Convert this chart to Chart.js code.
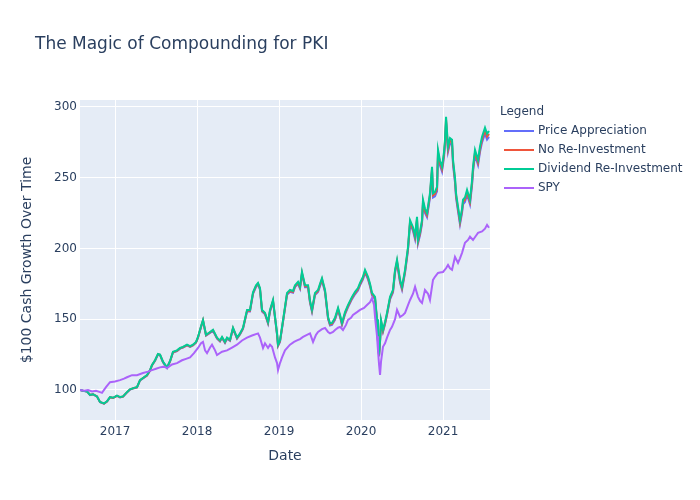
<!DOCTYPE html>
<html>
<head>
<meta charset="utf-8">
<title>The Magic of Compounding for PKI</title>
<script src="https://cdn.jsdelivr.net/npm/chart.js@4.4.1/dist/chart.umd.min.js"></script>
<style>
  html, body { margin: 0; padding: 0; background: #fff; }
  #wrap { width: 700px; height: 500px; }
</style>
</head>
<body>
<div id="wrap"><canvas id="chart"></canvas></div>
<script>
// ---- data (dates as decimal years) ----
const pkiYears = [
  2016.573, 2016.610, 2016.659, 2016.695, 2016.732, 2016.780, 2016.817, 2016.866, 2016.902, 2016.939,
  2016.976, 2017.024, 2017.061, 2017.098, 2017.146, 2017.183, 2017.232, 2017.268, 2017.305, 2017.354,
  2017.390, 2017.427, 2017.451, 2017.488, 2017.524, 2017.549, 2017.585, 2017.634, 2017.671, 2017.707,
  2017.756, 2017.793, 2017.829, 2017.878, 2017.915, 2017.951, 2017.988, 2018.012, 2018.049, 2018.073,
  2018.110, 2018.159, 2018.195, 2018.244, 2018.280, 2018.305, 2018.341, 2018.366, 2018.402, 2018.439,
  2018.488, 2018.524, 2018.561, 2018.610, 2018.646, 2018.683, 2018.720, 2018.744, 2018.768, 2018.793,
  2018.829, 2018.866, 2018.890, 2018.927, 2018.951, 2018.976, 2018.988, 2019.012, 2019.037, 2019.073,
  2019.098, 2019.134, 2019.171, 2019.195, 2019.232, 2019.256, 2019.280, 2019.317, 2019.354, 2019.378,
  2019.402, 2019.439, 2019.476, 2019.500, 2019.524, 2019.561, 2019.598, 2019.622, 2019.646, 2019.683,
  2019.720, 2019.744, 2019.768, 2019.805, 2019.841, 2019.890, 2019.927, 2019.963, 2019.988, 2020.024,
  2020.049, 2020.085, 2020.110, 2020.134, 2020.171, 2020.195, 2020.207, 2020.220, 2020.232, 2020.244,
  2020.268, 2020.293, 2020.317, 2020.354, 2020.390, 2020.415, 2020.439, 2020.476, 2020.500, 2020.537,
  2020.573, 2020.598, 2020.634, 2020.659, 2020.683, 2020.695, 2020.720, 2020.744, 2020.756, 2020.780,
  2020.805, 2020.841, 2020.866, 2020.878, 2020.902, 2020.927, 2020.939, 2020.963, 2020.988, 2021.012,
  2021.024, 2021.037, 2021.061, 2021.085, 2021.110, 2021.122, 2021.146, 2021.159, 2021.183, 2021.207,
  2021.232, 2021.244, 2021.268, 2021.293, 2021.329, 2021.354, 2021.366, 2021.390, 2021.427, 2021.451,
  2021.476, 2021.512, 2021.537, 2021.561
];

const priceAppreciation = [
  100, 99.4, 98.9, 96.4, 96.9, 95.4, 91.4, 90.4, 91.9, 94.8,
  94.3, 95.8, 94.8, 95.3, 98.3, 100.3, 101.3, 101.8, 106.8, 108.7,
  110.2, 113.7, 117.4, 120.6, 125.1, 124.6, 119.6, 115.6, 120.1, 126.5,
  127.5, 129.2, 130, 131.5, 130.5, 131.5, 133.5, 136.9, 144.4, 148.9,
  138.4, 140.4, 141.9, 136.3, 134.3, 136.8, 133.3, 136.3, 134.8, 143.2,
  136.2, 139.2, 143.1, 155.5, 155.5, 167.9, 172.9, 174.6, 170.9, 155.5,
  153.5, 147, 155.4, 162.5, 150.9, 139, 131.1, 134, 143.5, 157.5,
  167.3, 169.4, 168.7, 172.7, 175, 171.6, 181.9, 172.6, 172.6, 161.6,
  155.3, 167.1, 169.2, 173.4, 177.4, 169.1, 150.2, 145.6, 146, 149.6,
  156.5, 151.5, 146, 153.5, 158.4, 164.2, 167.6, 170.3, 173.9, 178.2,
  183, 178.2, 173.2, 166.9, 164.1, 148.5, 133.6, 123.7, 133.6, 147.9,
  141, 146.4, 152.9, 164, 168.9, 182.9, 189.9, 175.7, 170.8, 182.7,
  198.6, 217.4, 212.4, 206.5, 219.6, 203.5, 209.4, 217.3, 231.5, 225.2,
  222.2, 236, 254.4, 236, 236.9, 240.4, 266.2, 258.6, 254.3, 264.5,
  273.2, 289.2, 268.2, 274.3, 273.1, 259.1, 246.7, 235.8, 226.3, 217,
  224.9, 231.2, 232.8, 238.1, 231.1, 244.5, 254.1, 265.9, 258.9, 268.1,
  275, 281.1, 276.9, 278.8
];

const noReinvestment = [
  100, 99.5, 99, 96.5, 97, 95.5, 91.5, 90.4, 91.9, 94.9,
  94.4, 95.9, 94.9, 95.4, 98.4, 100.4, 101.4, 101.9, 106.9, 108.9,
  110.3, 113.8, 117.5, 120.8, 125.3, 124.8, 119.8, 115.8, 120.3, 126.7,
  127.7, 129.4, 130.2, 131.7, 130.7, 131.7, 133.7, 137.2, 144.7, 149.2,
  138.7, 140.7, 142.2, 136.6, 134.6, 137.1, 133.6, 136.6, 135.1, 143.6,
  136.6, 139.6, 143.5, 156, 156, 168.4, 173.4, 175.1, 171.4, 156,
  154, 147.5, 155.9, 163, 151.4, 139.5, 131.5, 134.5, 144, 158.1,
  168, 170, 169.3, 173.3, 175.7, 172.3, 182.6, 173.3, 173.3, 162.3,
  156, 167.8, 169.9, 174.2, 178.2, 169.9, 150.9, 146.3, 146.7, 150.3,
  157.2, 152.2, 146.7, 154.2, 159.2, 165, 168.4, 171.1, 174.8, 179.1,
  183.9, 179.1, 174.1, 167.7, 164.9, 149.2, 134.3, 124.4, 134.3, 148.7,
  141.7, 147.2, 153.7, 164.9, 169.8, 183.9, 190.9, 176.8, 171.9, 183.8,
  199.8, 218.7, 213.7, 207.8, 221, 204.8, 210.7, 218.7, 233, 226.6,
  223.6, 237.5, 256.1, 237.5, 238.5, 242, 268, 260.3, 256, 266.3,
  275, 291.1, 270, 276.2, 275, 260.9, 248.4, 237.4, 227.9, 218.5,
  226.5, 232.8, 234.4, 239.8, 232.8, 246.3, 255.9, 267.8, 260.8, 270.1,
  277, 283.2, 279, 280.9
];

const dividendReinvestment = [
  100, 99.5, 99, 96.5, 97, 95.5, 91.5, 90.5, 92, 95,
  94.5, 96, 95, 95.5, 98.5, 100.5, 101.5, 102, 107, 109,
  110.5, 114, 117.7, 121, 125.5, 125, 120, 116, 120.5, 127,
  128, 129.7, 130.5, 132, 131, 132, 134, 137.5, 145, 149.5,
  139, 141, 142.5, 137, 135, 137.5, 134, 137, 135.5, 144,
  137, 140, 144, 156.5, 156.5, 169, 174, 175.7, 172, 156.5,
  154.5, 148, 156.5, 163.6, 152, 140, 132, 135, 144.5, 158.7,
  168.6, 170.7, 170, 174, 176.4, 173, 183.4, 174, 174, 163,
  156.6, 168.6, 170.7, 175, 179, 170.7, 151.6, 147, 147.4, 151,
  158, 153, 147.4, 155, 160, 165.8, 169.3, 172, 175.7, 180,
  184.9, 180, 175, 168.6, 165.8, 150, 135, 125, 135, 149.5,
  142.5, 148, 154.5, 165.8, 170.7, 184.9, 192, 177.8, 172.9, 184.9,
  201, 220, 215, 209, 222.3, 206, 212, 220, 234.4, 228,
  225, 239, 257.7, 239, 240, 243.6, 269.7, 262, 257.7, 268,
  276.8, 293, 271.8, 278, 276.8, 262.6, 250, 239, 229.4, 220,
  228, 234.4, 236, 241.4, 234.4, 248, 257.7, 269.7, 262.6, 272,
  279, 285.3, 281, 283
];

const spyYears = [
  2016.573, 2016.622, 2016.671, 2016.720, 2016.768, 2016.817, 2016.841, 2016.890, 2016.939, 2017.000,
  2017.061, 2017.110, 2017.146, 2017.207, 2017.268, 2017.341, 2017.402, 2017.451, 2017.500, 2017.549,
  2017.598, 2017.634, 2017.695, 2017.756, 2017.817, 2017.866, 2017.915, 2017.963, 2018.012, 2018.049,
  2018.073, 2018.098, 2018.122, 2018.159, 2018.183, 2018.220, 2018.244, 2018.305, 2018.366, 2018.427,
  2018.488, 2018.549, 2018.610, 2018.671, 2018.744, 2018.768, 2018.805, 2018.829, 2018.866, 2018.890,
  2018.915, 2018.951, 2018.976, 2018.988, 2019.012, 2019.037, 2019.073, 2019.134, 2019.183, 2019.220,
  2019.256, 2019.293, 2019.341, 2019.378, 2019.415, 2019.451, 2019.476, 2019.524, 2019.561, 2019.598,
  2019.622, 2019.659, 2019.683, 2019.720, 2019.744, 2019.780, 2019.817, 2019.841, 2019.878, 2019.902,
  2019.951, 2019.988, 2020.037, 2020.073, 2020.110, 2020.134, 2020.159, 2020.171, 2020.195, 2020.207,
  2020.220, 2020.232, 2020.244, 2020.268, 2020.293, 2020.317, 2020.354, 2020.378, 2020.415, 2020.439,
  2020.476, 2020.512, 2020.537, 2020.573, 2020.598, 2020.634, 2020.659, 2020.695, 2020.720, 2020.744,
  2020.780, 2020.817, 2020.841, 2020.878, 2020.902, 2020.939, 2020.963, 2021.000, 2021.037, 2021.061,
  2021.085, 2021.110, 2021.146, 2021.183, 2021.207, 2021.232, 2021.268, 2021.305, 2021.329, 2021.366,
  2021.402, 2021.427, 2021.476, 2021.512, 2021.537, 2021.561
];

const spyValues = [
  100, 99.5, 100, 99, 99.5, 98.5, 98, 102, 105.5, 106,
  107, 108, 109, 110.5, 110.5, 112, 113, 114, 115, 116,
  116.5, 115.5, 118, 119, 121, 122, 123, 126, 129.7, 133,
  134, 128, 126, 130, 132, 128, 124.7, 127, 128, 130,
  132, 135, 137, 138.5, 140, 137, 129.7, 133, 129.7, 132,
  130.5, 123, 119, 114, 119, 123, 128, 132, 134, 135,
  136, 137.5, 139, 140, 134, 139, 141, 143, 143.8, 141,
  140, 141, 142.4, 144, 144.6, 142.4, 146, 149.5, 151, 153,
  155, 156.6, 158, 160, 162, 165, 160, 151.6, 138, 128,
  118, 110.6, 120, 130.5, 133, 137, 142.4, 144.6, 150, 156.6,
  151.6, 153, 154.5, 160, 163.6, 168, 172.9, 165.8, 163, 161.5,
  170.7, 168, 163.6, 177.8, 180, 182.7, 183, 183.4, 186, 188.4,
  186, 184.9, 194, 189.8, 193, 196.9, 204, 206, 208.3, 206,
  209, 211, 212, 214, 216.7, 214.6
];

const xTicks = [2017, 2018, 2019, 2020, 2021];
const yTicks = [100, 150, 200, 250, 300];

// ---- helpers ----
const INK = "#2a3f5f";
Chart.defaults.font.family = "'DejaVu Sans', Verdana, sans-serif";
Chart.defaults.color = INK;

function toPoints(xs, ys) {
    return xs.map((x, i) => ({ x: x, y: ys[i] }));
}

function lineSet(label, xs, ys, color, order) {
    return {
        label: label,
        data: toPoints(xs, ys),
        borderColor: color,
        backgroundColor: color,
        borderWidth: 2,
        pointRadius: 0,
        tension: 0,
        order: order
    };
}

// light blue plot area, plotly style
const plotBackground = {
    id: "plotBackground",
    beforeDraw(chart) {
        const { ctx, chartArea: a } = chart;
        ctx.save();
        ctx.fillStyle = "#E5ECF6";
        ctx.fillRect(a.left, a.top, a.right - a.left, a.bottom - a.top);
        ctx.restore();
    }
};

// title + legend on the right
const sideLegend = {
    id: "sideLegend",
    afterDraw(chart) {
        const ctx = chart.ctx;
        ctx.save();
        ctx.fillStyle = INK;
        ctx.textBaseline = "middle";
        ctx.textAlign = "left";
        ctx.font = "17px 'DejaVu Sans'";
        ctx.fillText("The Magic of Compounding for PKI", 35, 45);
        ctx.font = "12px 'DejaVu Sans'";
        ctx.fillText("Legend", 500, 112);
        chart.data.datasets.forEach((ds, i) => {
            const y = 131 + i * 19;
            ctx.strokeStyle = ds.borderColor;
            ctx.lineWidth = 2;
            ctx.beginPath();
            ctx.moveTo(504, y);
            ctx.lineTo(534, y);
            ctx.stroke();
            ctx.fillText(ds.label, 538, y);
        });
        ctx.restore();
    }
};

new Chart(document.getElementById("chart"), {
    type: "line",
    data: {
        datasets: [
            lineSet("Price Appreciation", pkiYears, priceAppreciation, "#636efa", 3),
            lineSet("No Re-Investment", pkiYears, noReinvestment, "#EF553B", 2),
            lineSet("Dividend Re-Investment", pkiYears, dividendReinvestment, "#00cc96", 1),
            lineSet("SPY", spyYears, spyValues, "#ab63fa", 0)
        ]
    },
    options: {
        responsive: true,
        maintainAspectRatio: false,
        animation: false,
        layout: { padding: { top: 100, right: 210, bottom: 0, left: 0 } },
        plugins: {
            legend: { display: false },
            tooltip: { enabled: false }
        },
        scales: {
            x: {
                type: "linear",
                min: 2016.573,
                max: 2021.573,
                afterBuildTicks: s => { s.ticks = xTicks.map(v => ({ value: v })); },
                afterFit: s => { s.height = 80; },
                grid: { color: "#ffffff", lineWidth: 1, drawTicks: false },
                border: { display: false },
                ticks: { color: INK, font: { size: 12 }, padding: 5, maxRotation: 0, callback: v => String(v) },
                title: { display: true, text: "Date", color: INK, font: { size: 14 }, padding: { top: 0, bottom: 35 } }
            },
            y: {
                min: 78.8,
                max: 304.9,
                afterBuildTicks: s => { s.ticks = yTicks.map(v => ({ value: v })); },
                afterFit: s => { s.width = 80; },
                grid: { color: "#ffffff", lineWidth: 1, drawTicks: false },
                border: { display: false },
                ticks: { color: INK, font: { size: 12 }, padding: 3, callback: v => String(v) },
                title: { display: true, text: "$100 Cash Growth Over Time", color: INK, font: { size: 14 }, padding: { top: 19, bottom: 0 } }
            }
        }
    },
    plugins: [plotBackground, sideLegend]
});
</script>
</body>
</html>
